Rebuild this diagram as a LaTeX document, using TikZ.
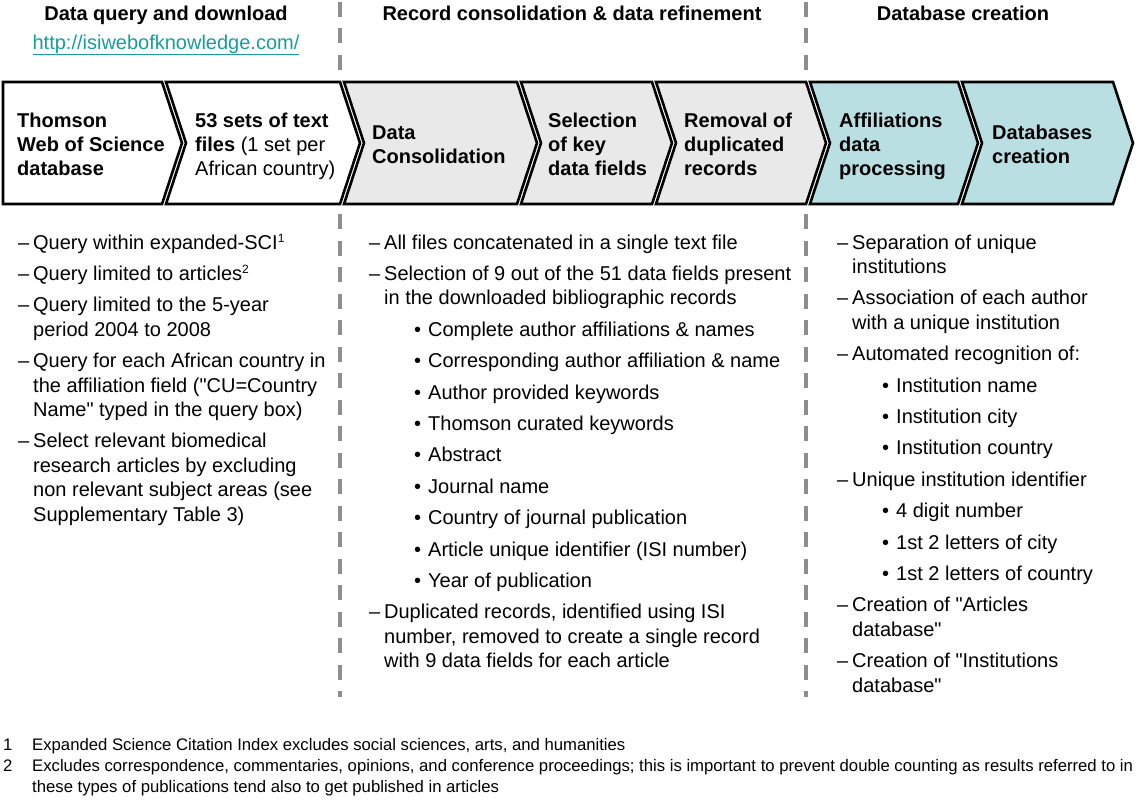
\documentclass[tikz,border=0pt]{standalone}
\usepackage{fontspec}
\setmainfont{Liberation Sans}
\usepackage{array}
\definecolor{chevgray}{HTML}{E9E9E9}
\definecolor{chevblue}{HTML}{BADFE3}
\definecolor{sepgray}{HTML}{8E8E8E}
\definecolor{linkteal}{HTML}{1A9C9C}
\newcommand{\dd}{\makebox[15pt][l]{\textendash}}
\newcommand{\bb}{\hspace*{30pt}\makebox[14pt][l]{\textbullet}}
\newcommand{\supnum}[1]{\raisebox{7pt}{\fontsize{12}{12}\selectfont #1}}
\newcommand{\qq}{\textquotedbl}
\newcommand{\mychev}[4]{% left, right, fill, notch depth
  \path[chev,fill=#3] (#1,82) -- (#2,82) -- (#2+20,143) -- (#2,204) -- (#1,204) -- (#1+#4,143) -- cycle;}
\begin{document}
\begin{tikzpicture}[x=1pt,y=-1pt,
  chev/.style={draw=black,line width=2.6pt,line join=miter},
  hdr/.style={font=\fontsize{20}{24}\selectfont\bfseries,anchor=base,inner sep=0pt},
  ctext/.style={font=\fontsize{20}{24}\selectfont\bfseries,anchor=base west,inner sep=0pt},
  body/.style={font=\fontsize{20}{24.4}\selectfont,anchor=base west,inner sep=0pt},
  fn/.style={font=\fontsize{16.7}{21}\selectfont,anchor=base west,inner sep=0pt},
  linkstyle/.style={font=\fontsize{20}{24}\selectfont,text=linkteal,anchor=base,inner sep=0pt},
  sep/.style={draw=sepgray,line width=4pt,dash pattern=on 15pt off 11.5pt}]
\path[use as bounding box,fill=white] (0,0) rectangle (1148,800);

% separators
\coordinate (s1top) at (340,2);
\coordinate (s1bot) at (340,697);
\coordinate (s2top) at (806,2);
\coordinate (s2bot) at (806,697);
\draw[sep] (s1top) -- (s1bot);
\draw[sep] (s2top) -- (s2bot);

% headers
\node[hdr] (h1) at (166,21) {Data query and download};
\node[linkstyle] (url) at (166,49) {\underline{http://isiwebofknowledge.com/}};
\node[hdr] (h2) at (572,21) {Record consolidation \& data refinement};
\node[hdr] (h3) at (963,21) {Database creation};

% chevrons
\mychev{3}{162}{white}{0}
\mychev{166}{340}{white}{20}
\mychev{344}{517}{chevgray}{20}
\mychev{521}{652}{chevgray}{20}
\mychev{656}{806}{chevgray}{20}
\mychev{810}{958}{chevblue}{20}
\mychev{962}{1113}{chevblue}{20}

\node[ctext] (c1) at (17,127) {\begin{tabular}[t]{@{}l@{}}Thomson\\Web of Science\\database\end{tabular}};
\node[ctext] (c2) at (195,127) {\begin{tabular}[t]{@{}l@{}}53 sets of text\\files {\mdseries (1 set per}\\{\mdseries African country)}\end{tabular}};
\node[ctext] (c3) at (372,139) {\begin{tabular}[t]{@{}l@{}}Data\\Consolidation\end{tabular}};
\node[ctext] (c4) at (548,127) {\begin{tabular}[t]{@{}l@{}}Selection\\of key\\data fields\end{tabular}};
\node[ctext] (c5) at (684,127) {\begin{tabular}[t]{@{}l@{}}Removal of\\duplicated\\records\end{tabular}};
\node[ctext] (c6) at (839,127) {\begin{tabular}[t]{@{}l@{}}Affiliations\\data\\processing\end{tabular}};
\node[ctext] (c7) at (992,139) {\begin{tabular}[t]{@{}l@{}}Databases\\creation\end{tabular}};

% lists
\node[body] (l1) at (18,249) {\begin{tabular}[t]{@{}l@{}l@{}}
\dd & Query within expanded-SCI\supnum{1}\\[7pt]
\dd & Query limited to articles\supnum{2}\\[7pt]
\dd & Query limited to the 5-year\\
    & period 2004 to 2008\\[7pt]
\dd & Query for each African country in\\
    & the affiliation field (\qq CU=Country\\
    & Name\qq{} typed in the query box)\\[7pt]
\dd & Select relevant biomedical\\
    & research articles by excluding\\
    & non relevant subject areas (see\\
    & Supplementary Table 3)
\end{tabular}};

\node[body] (l2) at (369,249) {\begin{tabular}[t]{@{}l@{}l@{}}
\dd & All files concatenated in a single text file\\[7pt]
\dd & Selection of 9 out of the 51 data fields present\\
    & in the downloaded bibliographic records\\[7pt]
    & \bb Complete author affiliations \& names\\[7pt]
    & \bb Corresponding author affiliation \& name\\[7pt]
    & \bb Author provided keywords\\[7pt]
    & \bb Thomson curated keywords\\[7pt]
    & \bb Abstract\\[7pt]
    & \bb Journal name\\[7pt]
    & \bb Country of journal publication\\[7pt]
    & \bb Article unique identifier (ISI number)\\[7pt]
    & \bb Year of publication\\[7pt]
\dd & Duplicated records, identified using ISI\\
    & number, removed to create a single record\\
    & with 9 data fields for each article
\end{tabular}};

\node[body] (l3) at (837,249) {\begin{tabular}[t]{@{}l@{}l@{}}
\dd & Separation of unique\\
    & institutions\\[7pt]
\dd & Association of each author\\
    & with a unique institution\\[7pt]
\dd & Automated recognition of:\\[7pt]
    & \bb Institution name\\[7pt]
    & \bb Institution city\\[7pt]
    & \bb Institution country\\[7pt]
\dd & Unique institution identifier\\[7pt]
    & \bb 4 digit number\\[7pt]
    & \bb 1st 2 letters of city\\[7pt]
    & \bb 1st 2 letters of country\\[7pt]
\dd & Creation of \qq Articles\\
    & database\qq\\[7pt]
\dd & Creation of \qq Institutions\\
    & database\qq
\end{tabular}};

% footnotes
\node[fn] (fn) at (3,750) {\begin{tabular}[t]{@{}l@{}l@{}}
\makebox[29pt][l]{1} & Expanded Science Citation Index excludes social sciences, arts, and humanities\\
\makebox[29pt][l]{2} & Excludes correspondence, commentaries, opinions, and conference proceedings; this is important to prevent double counting as results referred to in\\
 & these types of publications tend also to get published in articles
\end{tabular}};
\end{tikzpicture}
\end{document}
